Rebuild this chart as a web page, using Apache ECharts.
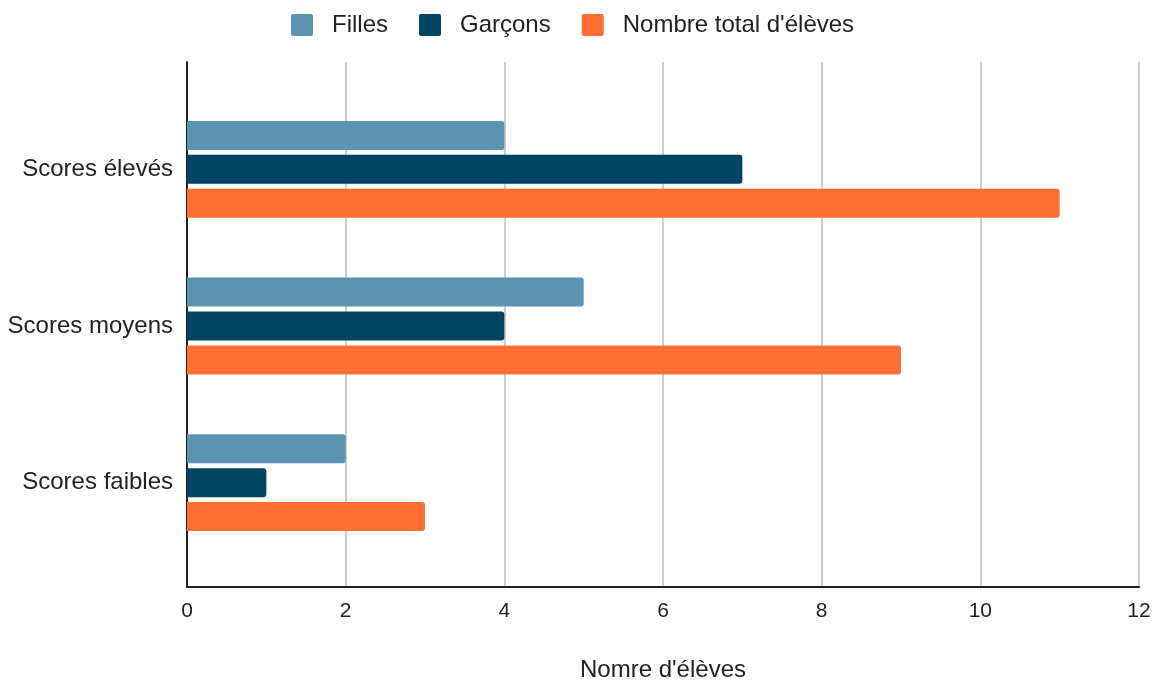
<!DOCTYPE html>
<html><head><meta charset="utf-8">
<script src="https://cdn.jsdelivr.net/npm/echarts@6/dist/echarts.min.js"></script>
<style>html,body{margin:0;padding:0;background:#fff}#c{width:1158px;height:681px}</style>
</head><body><div id="c"></div>
<script>
const categories = ['Scores élevés', 'Scores moyens', 'Scores faibles'];
const filles = [4, 5, 2];
const garcons = [7, 4, 1];
const total = [11, 9, 3];
const seriesNames = ['Filles', 'Garçons', "Nombre total d'élèves"];
const xTicks = [0, 2, 4, 6, 8, 10, 12];

const chart = echarts.init(document.getElementById('c'));
const font = 'Liberation Sans, Arial, sans-serif';
const xMin = xTicks[0], xMax = xTicks[xTicks.length - 1];
const mk = (name, data, color) => ({
  name, type: 'bar', data, barWidth: 29, barGap: '17%',
  xAxisIndex: 1, yAxisIndex: 1,
  itemStyle: { color, borderRadius: [0, 3, 3, 0] }
});
chart.setOption({
  animation: false,
  textStyle: { fontFamily: font },
  legend: {
    top: 8, left: 286, itemWidth: 22, itemHeight: 22, itemGap: 31,
    icon: 'path://M2,0 L20,0 Q22,0 22,2 L22,20 Q22,22 20,22 L2,22 Q0,22 0,20 L0,2 Q0,0 2,0 Z',
    textStyle: { fontSize: 24, color: '#222', fontFamily: font, padding: [0, 0, 0, 14] },
    data: seriesNames
  },
  grid: [
    { left: 187, right: 19, top: 62, bottom: 94, containLabel: false, outerBoundsMode: 'none' },
    { left: 187, right: 19, top: 91, bottom: 120, containLabel: false, outerBoundsMode: 'none' }
  ],
  xAxis: [{
    gridIndex: 0, type: 'value', min: xMin, max: xMax, interval: 2,
    name: "Nomre d'élèves", nameLocation: 'middle', nameGap: 71,
    nameTextStyle: { fontSize: 24, color: '#222', fontFamily: font },
    axisLine: { show: true, lineStyle: { color: '#222', width: 2 } },
    axisTick: { show: false },
    axisLabel: { fontSize: 21, color: '#222', margin: 14, fontFamily: font },
    splitLine: { show: true, lineStyle: { color: '#ccc', width: 2 } }
  }, {
    gridIndex: 1, type: 'value', min: xMin, max: xMax, interval: 2, show: false,
    splitLine: { show: false }
  }],
  yAxis: [{
    gridIndex: 0, type: 'value', min: 0, max: 1,
    axisLine: { show: true, lineStyle: { color: '#222', width: 2 } },
    axisTick: { show: false }, axisLabel: { show: false }, splitLine: { show: false }
  }, {
    gridIndex: 1, type: 'category', data: categories, inverse: true,
    axisLine: { show: false },
    axisTick: { show: false },
    axisLabel: { fontSize: 24, color: '#222', margin: 14, fontFamily: font }
  }],
  series: [
    mk(seriesNames[0], filles, '#5b93b0'),
    mk(seriesNames[1], garcons, '#004462'),
    mk(seriesNames[2], total, '#ff6e33')
  ]
});
</script></body></html>
